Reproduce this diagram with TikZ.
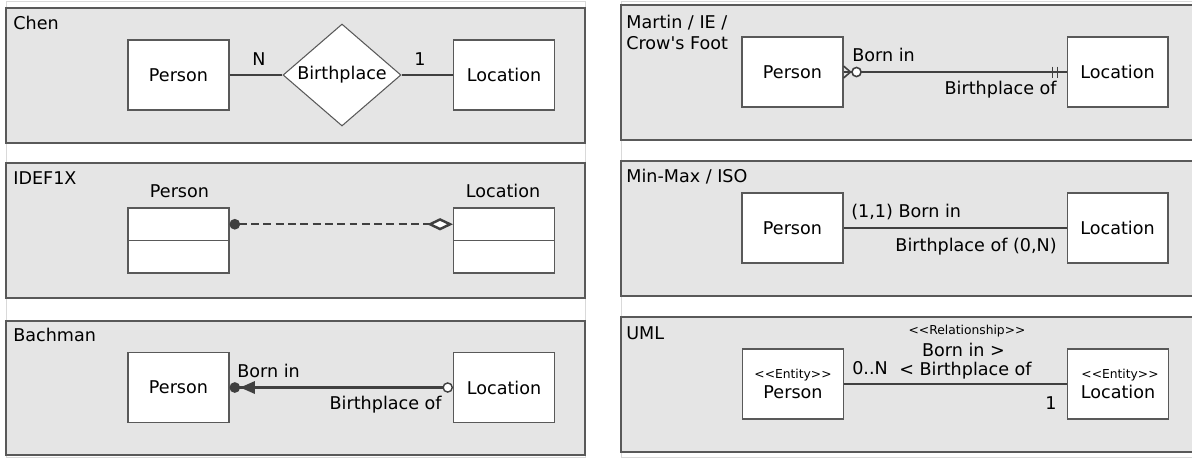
\documentclass[tikz,border=0pt]{standalone}
\usepackage{fontspec}
\setmainfont{DejaVu Sans}
\usepackage{tikz}
\usetikzlibrary{arrows.meta,shapes.geometric}
\newcommand{\dlt}{<\kern0pt<}
\newcommand{\dgt}{>\kern0pt>}

\begin{document}
\begin{tikzpicture}[x=0.02cm, y=-0.02cm, font=\fontsize{10}{12}\selectfont,
  frame/.style={draw=black!15, fill=white, line width=0.5pt},
  panel/.style={draw=black!65, fill=black!10, line width=0.7pt},
  entity/.style={draw=black!65, fill=white, line width=0.6pt, inner sep=0pt, minimum width=2.02cm, minimum height=1.4cm},
  row/.style={entity, minimum height=0.65cm},
  rel/.style={diamond, aspect=1.2, draw=black!65, fill=white, line width=0.6pt, inner sep=0pt, minimum width=2.36cm, minimum height=2.04cm},
  conn/.style={draw=black!75, line width=1.4pt},
  tick/.style={draw=black!75, line width=0.9pt},
  txt/.style={inner sep=0pt},
  small/.style={inner sep=0pt, font=\fontsize{7}{8}\selectfont}]
		\useasboundingbox (0,0) rectangle (1192,458);
\draw[frame] (6,1.5) rectangle (585,457); % left column
\draw[frame] (621,1.5) rectangle (1200,457); % right column
\draw[panel] (6,8) rectangle (585,143); % Chen
\draw[panel] (6,163) rectangle (585,298); % IDEF1X
\draw[panel] (6,321) rectangle (585,455); % Bachman
\draw[panel] (621,5) rectangle (1200,140); % Martin
\draw[panel] (621,161) rectangle (1200,296); % MinMax
\draw[panel] (621,317) rectangle (1200,452); % UML

\draw (13,23) node[txt, anchor=west] (chenT) {Chen}; % Chen
\draw (178.5,75) node[entity] (chenP) {Person}; % Chen
\draw (342,75) node[rel] (chenR) {Birthplace}; % Chen
\draw (504,75) node[entity] (chenL) {Location}; % Chen
\draw (259,59) node[txt] (chenN) {N}; % Chen
\draw (420,59) node[txt] (chenOne) {1}; % Chen
\draw[conn] (chenP) -- (chenR); % Chen
\draw[conn] (chenR) -- (chenL); % Chen

\draw (13,178) node[txt, anchor=west] (idefT) {IDEF1X}; % IDEF1X
\draw (179.5,191) node[txt] (idefPn) {Person}; % IDEF1X
\draw (503,191) node[txt] (idefLn) {Location}; % IDEF1X
\draw (178.5,224.25) node[row] (idefP) {}; % IDEF1X
\draw (178.5,256.75) node[row] (idefPb) {}; % IDEF1X
\draw (504,224.25) node[row] (idefL) {}; % IDEF1X
\draw (504,256.75) node[row] (idefLb) {}; % IDEF1X
\draw[conn, dash pattern=on 4.5pt off 2.5pt, {Circle[length=6pt]}-{Diamond[fill=white,length=14.7pt,width=7pt]}] (idefP) -- (idefL); % IDEF1X

\draw (13,335) node[txt, anchor=west] (bachT) {Bachman}; % Bachman
\draw (178.5,387.5) node[entity] (bachP) {Person}; % Bachman
\draw (504,387.5) node[entity] (bachL) {Location}; % Bachman
\draw (237,371) node[txt, anchor=west] (bachB) {Born in}; % Bachman
\draw (442,405) node[txt, anchor=east] (bachO) {Birthplace of}; % Bachman
\draw[conn, {Circle[length=6pt,sep=0pt]Triangle[length=8.5pt,width=7pt]}-{Circle[fill=white,length=6pt,line width=0.8pt]}] (bachP) -- (bachL); % Bachman

\draw (626,23) node[txt, anchor=west] (martT) {Martin / IE /}; % Martin
\draw (626,43) node[txt, anchor=west] (martTb) {Crow\textquotesingle s Foot}; % Martin
\draw (792.5,72) node[entity] (martP) {Person}; % Martin
\draw (1117.5,72) node[entity] (martL) {Location}; % Martin
\draw (852,55) node[txt, anchor=west] (martB) {Born in}; % Martin
\draw (1057,90) node[txt, anchor=east] (martO) {Birthplace of}; % Martin
\draw[conn] (martP) -- (martL); % Martin
\draw[tick] (martP.east) ++(0,-6) -- ++(7,6) -- ++(-7,6); % Martin
\draw[tick, fill=white] (martP.east) ++(13,0) circle (2.6pt); % Martin
\draw[tick] (martL.west) ++(-14,-5.5) -- ++(0,11); % Martin
\draw[tick] (martL.west) ++(-9,-5.5) -- ++(0,11); % Martin

\draw (626,177) node[txt, anchor=west] (isoT) {Min-Max / ISO}; % MinMax
\draw (792.5,228) node[entity] (isoP) {Person}; % MinMax
\draw (1117.5,228) node[entity] (isoL) {Location}; % MinMax
\draw (851,212) node[txt, anchor=west] (isoB) {(1,1) Born in}; % MinMax
\draw (1057,247) node[txt, anchor=east] (isoO) {Birthplace of (0,N)}; % MinMax
\draw[conn] (isoP) -- (isoL); % MinMax

\draw (626,333) node[txt, anchor=west] (umlT) {UML}; % UML
\draw (793,384) node[entity] (umlP) {}; % UML
\draw (1118,384) node[entity] (umlL) {}; % UML
\draw (793,375) node[small] (umlPs) {\dlt Entity\dgt}; % UML
\draw (793,392) node[txt] (umlPn) {Person}; % UML
\draw (1120,375) node[small] (umlLs) {\dlt Entity\dgt}; % UML
\draw (1118,392) node[txt] (umlLn) {Location}; % UML
\draw (967,331) node[small] (umlR) {\dlt Relationship\dgt}; % UML
\draw (963.5,350) node[txt] (umlB) {Born in >}; % UML
\draw (965.5,371) node[txt] (umlO) {< Birthplace of}; % UML
\draw (870,368) node[txt] (umlN) {0..N}; % UML
\draw (1051,403) node[txt] (umlOne) {1}; % UML
\draw[conn] (umlP) -- (umlL); % UML
		\end{tikzpicture}
\end{document}
